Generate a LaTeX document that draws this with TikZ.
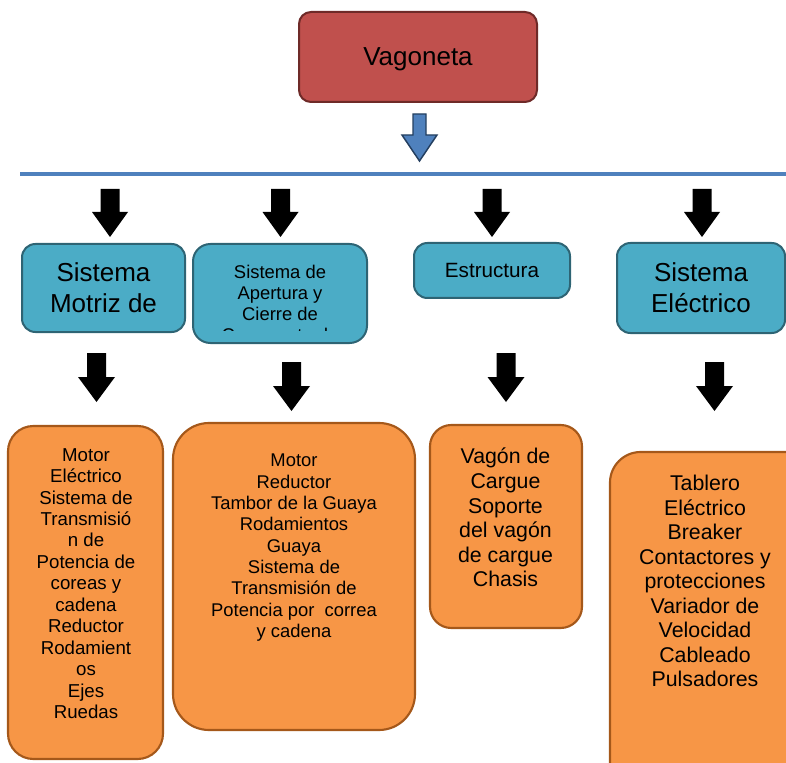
\documentclass[tikz,border=0pt]{standalone}
\usepackage{fontspec}
\setmainfont{Liberation Sans}
\usetikzlibrary{positioning}

\definecolor{vagRojo}{HTML}{C0504D}
\definecolor{vagBorde}{HTML}{6E2A28}
\definecolor{sisAzul}{HTML}{4BACC6}
\definecolor{sisBorde}{HTML}{2E6474}
\definecolor{compNaranja}{HTML}{F79646}
\definecolor{compBorde}{HTML}{A5581A}
\definecolor{lineaAzul}{HTML}{4F81BD}
\definecolor{flechaBorde}{HTML}{243F60}

\tikzset{
  caja/.style 2 args={minimum width=#1*0.75pt, minimum height=#2*0.75pt, inner sep=0pt},
  topbox/.style={draw=vagBorde, fill=vagRojo, line width=1.5pt, rounded corners=9pt,
    font=\fontsize{19.5pt}{23pt}\selectfont},
  sisbox/.style={draw=sisBorde, fill=sisAzul, line width=1.5pt, rounded corners=10pt, align=center},
  compbox/.style={draw=compBorde, fill=compNaranja, line width=1.6pt},
  txt/.style={align=center, inner sep=0pt, anchor=north},
}

\begin{document}
\begin{tikzpicture}[x=0.75pt,y=-0.75pt]
  \useasboundingbox (0,0) rectangle (786,763);
  \clip (0,0) rectangle (786,763);

  % raiz
  \node[topbox, caja={238}{90}, text depth=0pt] (vagoneta) at (418,57) {Vagoneta};
  \filldraw[fill=lineaAzul, draw=flechaBorde, line width=1.1pt]
    (413,114) -- (426,114) -- (426,135) -- (437,135) -- (419.5,161) -- (402,135) -- (413,135) -- cycle;
  \coordinate (barraIzq) at (20,174);
  \coordinate (barraDer) at (786,174);
  \draw[lineaAzul, line width=3.6pt] (barraIzq) -- (barraDer);

  % flechas negras
  \foreach \cx in {110,280.5,492,702}
    \fill (\cx-9.5,189) -- (\cx+9.5,189) -- (\cx+9.5,212) -- (\cx+18,212) -- (\cx,237)
      -- (\cx-18,212) -- (\cx-9.5,212) -- cycle;
  \foreach \cx/\yt in {96.5/353,291.5/362,506/353,714.5/362}
    \fill (\cx-9.5,\yt) -- (\cx+9.5,\yt) -- (\cx+9.5,\yt+24) -- (\cx+18.5,\yt+24) -- (\cx,\yt+49)
      -- (\cx-18.5,\yt+24) -- (\cx-9.5,\yt+24) -- cycle;

  % sistemas
  \node[sisbox, caja={163}{88}, font=\fontsize{19.5pt}{23.2pt}\selectfont] (motriz) at (103.5,288) {Sistema\\Motriz de};
  \node[sisbox, caja={174}{99}, rounded corners=13pt] (apertura) at (280,293.5) {};
  \begin{scope}
    \clip (193,244) rectangle (367,330);
    \node[txt, font=\fontsize{13.8pt}{15.8pt}\selectfont] (aperturaTxt) at (280,265)
      {Sistema de\\Apertura y\\Cierre de\\Compuerta de};
  \end{scope}
  \node[sisbox, caja={156}{55}, font=\fontsize{15.5pt}{18pt}\selectfont] (estructura) at (492,270.5) {Estructura};
  \node[sisbox, caja={168}{90}, font=\fontsize{19.5pt}{23.2pt}\selectfont] (electrico) at (701,288) {Sistema\\Eléctrico};

  % componentes
  \node[compbox, caja={155}{333}, rounded corners=19pt] (compMotriz) at (85.5,592.5) {};
  \node[txt, font=\fontsize{14pt}{16.1pt}\selectfont] (compMotrizTxt) at (86,448)
    {Motor\\Eléctrico\\Sistema de\\Transmisió\\n de\\Potencia de\\coreas y\\cadena\\Reductor\\Rodamient\\os\\Ejes\\Ruedas};
  \node[compbox, caja={242}{307}, rounded corners=27pt] (compApertura) at (294,576.5) {};
  \node[txt, font=\fontsize{13.8pt}{16pt}\selectfont] (compAperturaTxt) at (294,454)
    {Motor\\Reductor\\Tambor de la Guaya\\Rodamientos\\Guaya\\Sistema de\\Transmisión de\\Potencia por\ \ correa\\y cadena};
  \node[compbox, caja={152}{203}, rounded corners=16pt] (compEstructura) at (506,526.5) {};
  \node[txt, font=\fontsize{16pt}{18.4pt}\selectfont] (compEstructuraTxt) at (505.5,448)
    {Vagón de\\Cargue\\Soporte\\del vagón\\de cargue\\Chasis};
  \node[compbox, caja={220}{348}, rounded corners=23pt] (compElectrico) at (720,626) {};
  \node[txt, font=\fontsize{16pt}{18.4pt}\selectfont] (compElectricoTxt) at (705,475)
    {Tablero\\Eléctrico\\Breaker\\Contactores y\\protecciones\\Variador de\\Velocidad\\Cableado\\Pulsadores};
\end{tikzpicture}
\end{document}
